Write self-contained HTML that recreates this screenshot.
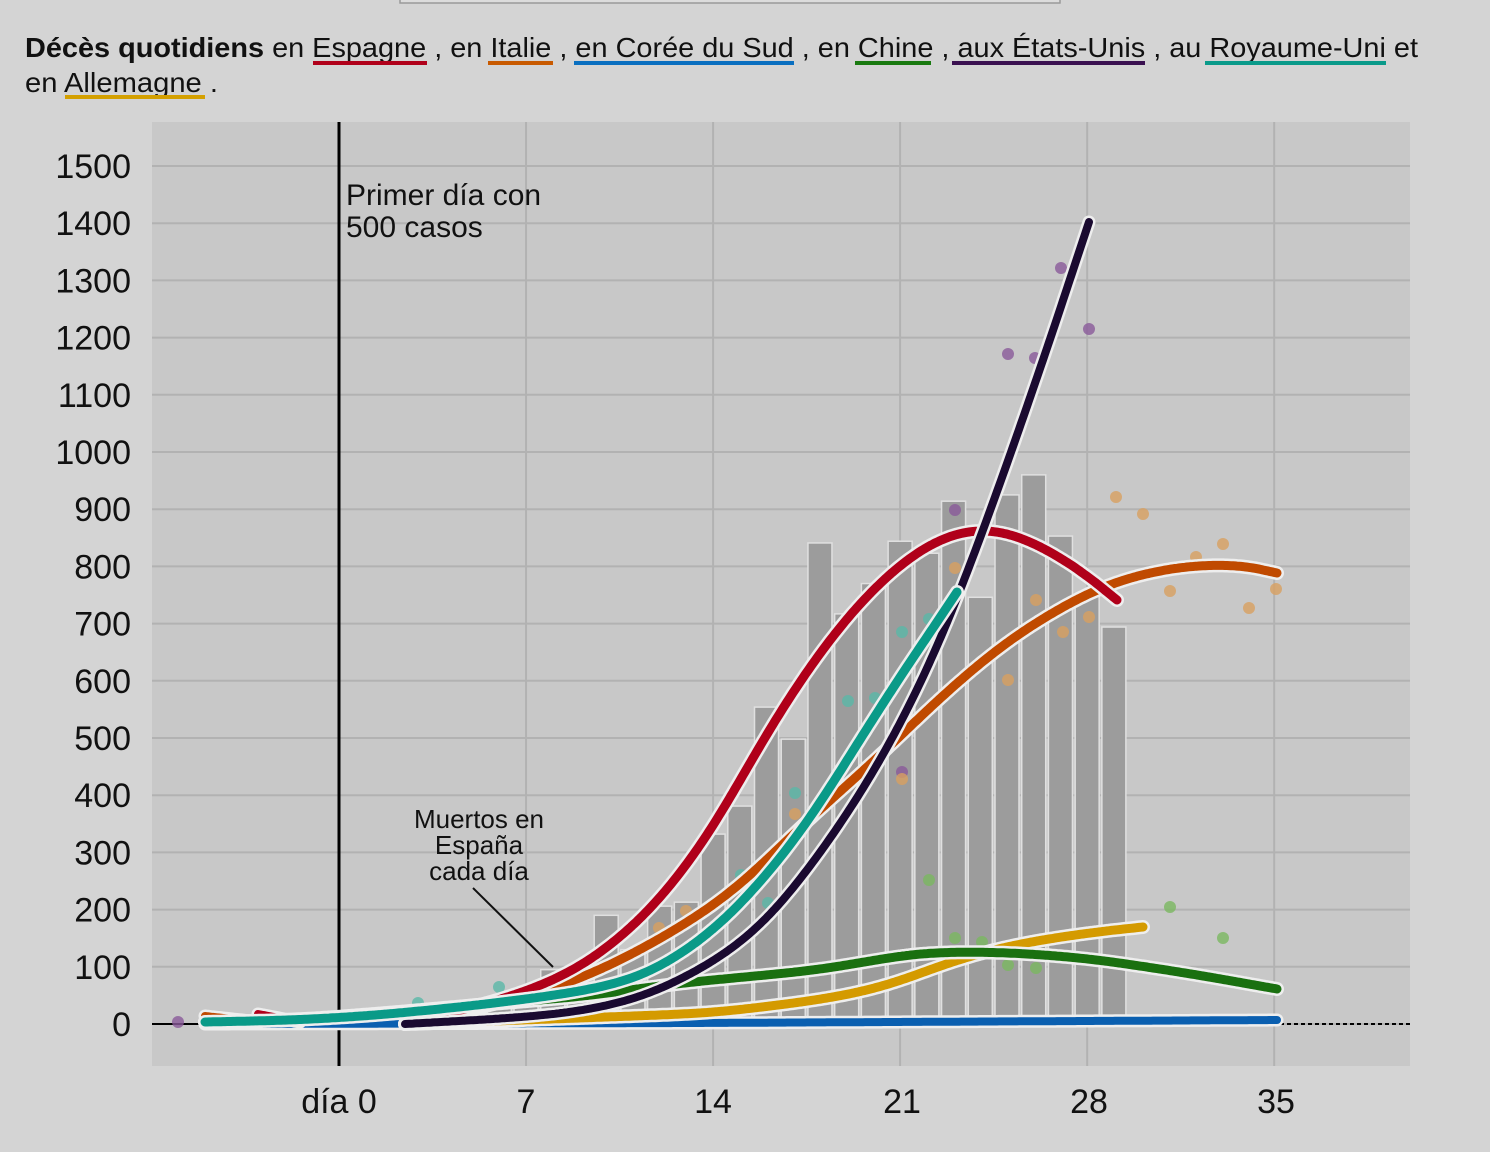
<!DOCTYPE html>
<html><head><meta charset="utf-8">
<style>
html,body{margin:0;padding:0;background:#d4d4d4;}
svg{display:block;font-family:"Liberation Sans",sans-serif;}
</style></head>
<body>
<svg id="s" width="1490" height="1152" viewBox="0 0 1490 1152" xmlns="http://www.w3.org/2000/svg">
<rect width="1490" height="1152" fill="#d4d4d4"/>
<rect x="400" y="-4" width="660" height="7" fill="#dcdcdc" stroke="#9a9a9a" stroke-width="1.5"/>
<text x="25" y="57" font-size="28" fill="#111" textLength="1393" lengthAdjust="spacingAndGlyphs"><tspan font-weight="bold">Décès quotidiens</tspan> en <tspan>Espagne</tspan> , en <tspan>Italie</tspan> , <tspan>en Corée du Sud</tspan> , en <tspan>Chine</tspan> , <tspan>aux États-Unis</tspan> , au <tspan>Royaume-Uni</tspan> et</text>
<text x="25" y="92" font-size="28" fill="#111" textLength="193" lengthAdjust="spacingAndGlyphs">en Allemagne .</text>
<g stroke-width="4">
<line x1="313" y1="63" x2="427" y2="63" stroke="#b0001a"/>
<line x1="488" y1="63" x2="553" y2="63" stroke="#c85a00"/>
<line x1="574" y1="63" x2="794" y2="63" stroke="#0a6fc0"/>
<line x1="855" y1="63" x2="931" y2="63" stroke="#1a7a10"/>
<line x1="952" y1="63" x2="1145" y2="63" stroke="#3a1050"/>
<line x1="1205" y1="63" x2="1386" y2="63" stroke="#0a9a8a"/>
<line x1="65" y1="97" x2="205" y2="97" stroke="#d4a000"/>
</g>
<rect x="152" y="122" width="1258" height="944" fill="#c8c8c8"/>
<g id="grid" stroke="#b2b2b2" stroke-width="2"></g>
<g id="bars" fill="#9c9c9c" stroke="#e0e0e0" stroke-width="1.5"></g>
<line x1="339" y1="122" x2="339" y2="1066" stroke="#000" stroke-width="3"/>
<line x1="152" y1="1024" x2="205" y2="1024" stroke="#000" stroke-width="2"/>
<line x1="1280" y1="1024" x2="1410" y2="1024" stroke="#000" stroke-width="2" stroke-dasharray="4,3"/>
<g id="dots"></g>
<g id="curves" fill="none" stroke-linecap="round" stroke-linejoin="round"></g>
<text x="346" y="205" font-size="30" fill="#111">Primer día con</text>
<text x="346" y="237" font-size="30" fill="#111">500 casos</text>
<g font-size="26" fill="#111" text-anchor="middle">
<text x="479" y="828">Muertos en</text>
<text x="479" y="854">España</text>
<text x="479" y="880">cada día</text>
</g>
<line x1="473" y1="888" x2="553" y2="967" stroke="#111" stroke-width="2"/>
<g id="ylab" font-size="34" fill="#111" text-anchor="end"></g>
<g font-size="34" fill="#111" text-anchor="middle">
<text x="339" y="1113">día 0</text><text x="526" y="1113">7</text><text x="713" y="1113">14</text>
<text x="902" y="1113">21</text><text x="1089" y="1113">28</text><text x="1276" y="1113">35</text>
</g>
</svg>
<script>
var NS="http://www.w3.org/2000/svg";
function el(t,a,p){var e=document.createElementNS(NS,t);for(var k in a)e.setAttribute(k,a[k]);document.getElementById(p).appendChild(e);return e;}
function Y(v){return 1024-v*0.572;}
function X(d){return 339+d*26.72;}
for(var v=0;v<=1500;v+=100){el("line",{x1:152,x2:1410,y1:Y(v),y2:Y(v)},"grid");var t=el("text",{x:131,y:Y(v)+12},"ylab");t.textContent=v;}
[0,7,14,21,28,35].forEach(function(d){el("line",{x1:X(d),x2:X(d),y1:122,y2:1066},"grid");});
var bars={5:15,6:30,7:62,8:95,9:60,10:190,11:130,12:206,13:213,14:332,15:381,16:554,17:498,18:841,19:717,20:770,21:844,22:823,23:914,24:746,25:925,26:960,27:853,28:750,29:694};
for(var d in bars){var v=bars[d];el("rect",{x:X(+d)-12,y:Y(v),width:24,height:v*0.572},"bars");}
var dots=[["#8a5a9a",[[1008,354],[1035,358],[1061,268],[1089,329],[955,510],[902,772],[902,731],[178,1022]]],
["#d8a060",[[1116,497],[1143,514],[1223,544],[1196,557],[1170,591],[1249,608],[1276,589],[1008,680],[1036,600],[1063,632],[1089,617],[902,779],[795,814],[686,911],[659,928],[955,568]]],
["#5ab8a8",[[848,701],[875,698],[902,632],[929,619],[795,793],[768,903],[741,875],[499,987],[418,1003]]],
["#7ab860",[[1170,907],[1223,938],[929,880],[955,938],[1008,965],[1036,968],[982,942]]]];
dots.forEach(function(g){g[1].forEach(function(p){el("circle",{cx:p[0],cy:p[1],r:6,fill:g[0],opacity:0.8},"dots");});});
function interp(P,x){for(var i=0;i<P.length-1;i++){if(x<=P[i+1][0]){var t=(x-P[i][0])/(P[i+1][0]-P[i][0]);return P[i][1]+t*(P[i+1][1]-P[i][1]);}}return P[P.length-1][1];}
function path(P,sig){var x0=P[0][0],x1=P[P.length-1][0],xs=[],ys=[];
for(var x=x0;x<=x1;x+=2){xs.push(x);ys.push(interp(P,x));}
if(xs[xs.length-1]!==x1){xs.push(x1);ys.push(interp(P,x1));}
var n=xs.length,out=[],w=Math.ceil(sig*1.5);
for(var i=0;i<n;i++){var k=Math.min(w,i,n-1-i),s=0,ws=0;
for(var j=-k;j<=k;j++){var g=Math.exp(-(j*j)/(2*(sig/2)*(sig/2)));s+=ys[i+j]*g;ws+=g;}
out.push(xs[i].toFixed(1)+","+(s/ws).toFixed(1));}
return "M"+out.join(" L");}
var curves=[
["#0a5fb0",[[205,1024],[700,1023],[1277,1020]],8],
["#d49a00",[[405,1024],[580,1018],[713,1013],[820,1000],[887,987],[953,960],[1020,943],[1087,933],[1143,927]],9],
["#1a7010",[[205,1022],[300,1020],[400,1012],[500,1003],[580,997],[680,983],[820,970],[920,952],[1003,952],[1087,958],[1187,973],[1277,989]],9],
["#c04a00",[[205,1016],[260,1022]],8],
["#b0001a",[[258,1014],[300,1022]],8],
["#c04a00",[[405,1024],[513,1000],[580,980],[647,947],[713,907],[740,887],[807,820],[873,763],[940,697],[1007,640],[1073,600],[1107,583],[1157,570],[1207,563],[1240,565],[1277,573]],9],
["#b0001a",[[405,1024],[513,997],[580,970],[647,917],[713,833],[740,780],[773,720],[807,670],[840,623],[890,570],[940,534],[990,524],[1040,543],[1080,570],[1117,600]],9],
["#1a0a30",[[405,1024],[513,1018],[580,1012],[647,997],[713,963],[747,940],[773,917],[840,827],[890,747],[940,647],[973,560],[1030,400],[1089,222]],8],
["#0a9a88",[[205,1022],[300,1020],[380,1015],[480,1005],[580,992],[647,977],[713,933],[740,907],[807,827],[873,717],[923,643],[957,592]],9]];
curves.forEach(function(c){var d=path(c[1],30);el("path",{d:d,stroke:"#eeeeee","stroke-width":c[2]+5},"curves");el("path",{d:d,stroke:c[0],"stroke-width":c[2]},"curves");});
</script>
</body></html>
